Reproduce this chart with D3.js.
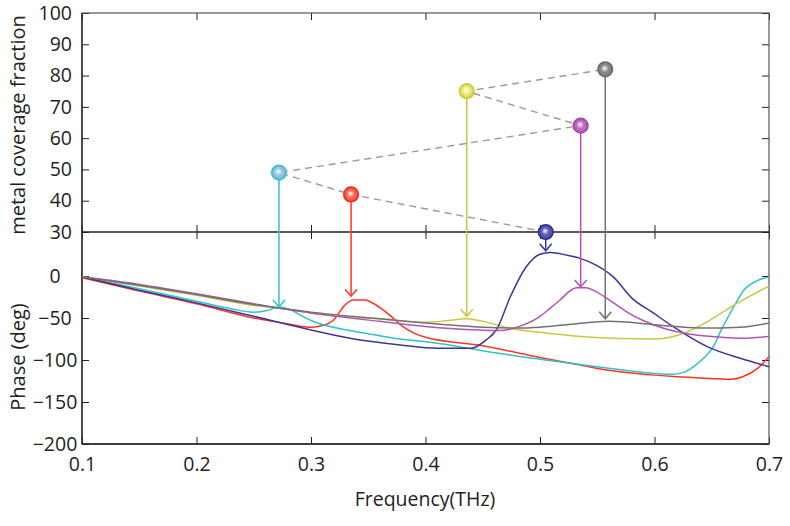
<!DOCTYPE html>
<html><head><meta charset="utf-8">
<script src="https://cdn.jsdelivr.net/npm/d3@7"></script>
<style>
body{margin:0;background:#fff;}
text{font-family:"Open Sans",sans-serif;fill:#231f20;}
</style></head>
<body><svg id="c" width="790" height="526"></svg>
<script>
// ---- data ----
const seriesNames = ["red","cyan","yellow","navy","purple","gray"];
const seriesColors = ["#ff3322","#2cc3c9","#c9c83c","#3b3797","#b254b6","#717171"];
const redPhase = [[0.1,-2],[0.15,-18],[0.2,-33],[0.25,-50],[0.28,-57],[0.3,-61],[0.31,-59],[0.32,-52],[0.33,-34],[0.337,-28.6],[0.347,-28.6],[0.355,-33],[0.37,-48],[0.38,-60],[0.39,-68],[0.4,-73],[0.45,-83],[0.5,-97],[0.535,-106],[0.55,-110],[0.6,-118],[0.62,-120],[0.65,-122],[0.667,-123],[0.677,-120],[0.69,-110],[0.7,-96]];
const cyanPhase = [[0.1,-1],[0.15,-15],[0.2,-30],[0.23,-39],[0.25,-43],[0.262,-41],[0.272,-37],[0.282,-40],[0.29,-46],[0.3,-53],[0.334,-65],[0.36,-71],[0.378,-75],[0.404,-79],[0.433,-85],[0.45,-89],[0.5,-99],[0.55,-108],[0.6,-116],[0.615,-117],[0.625,-115],[0.637,-105],[0.645,-95],[0.651,-85],[0.658,-65],[0.665,-47],[0.672,-30],[0.678,-17],[0.689,-6],[0.7,-1]];
const yellowPhase = [[0.1,-1],[0.15,-12],[0.2,-23],[0.25,-35],[0.272,-38],[0.3,-44],[0.36,-51],[0.4,-55],[0.42,-53],[0.436,-51],[0.45,-54],[0.477,-63],[0.5,-67],[0.535,-72],[0.57,-74.5],[0.6,-75],[0.622,-70],[0.648,-53],[0.669,-35],[0.7,-12]];
const navyPhase = [[0.1,-1],[0.15,-17],[0.2,-32],[0.25,-48],[0.29,-61],[0.334,-74],[0.378,-82],[0.41,-86],[0.44,-86],[0.453,-76],[0.462,-64],[0.474,-25],[0.488,11],[0.5,26],[0.509,28],[0.523,25],[0.535,21],[0.549,13],[0.564,-1],[0.58,-26],[0.599,-44],[0.616,-60],[0.646,-84],[0.675,-98],[0.7,-108]];
const purplePhase = [[0.1,-1],[0.15,-10],[0.2,-21],[0.25,-33],[0.3,-44],[0.36,-54],[0.4,-60],[0.44,-64],[0.465,-65],[0.482,-60],[0.5,-48],[0.51,-37],[0.518,-28],[0.525,-19],[0.532,-14],[0.54,-14],[0.548,-18],[0.56,-28],[0.575,-42],[0.59,-53],[0.61,-63],[0.63,-69],[0.65,-72],[0.675,-74],[0.7,-72]];
const grayPhase = [[0.1,-1],[0.15,-11],[0.2,-22],[0.25,-34],[0.3,-43],[0.36,-51],[0.4,-56],[0.45,-61],[0.48,-62],[0.5,-61],[0.53,-57],[0.56,-54],[0.6,-58],[0.64,-62],[0.675,-61],[0.7,-56]];
const phaseSeries = [redPhase,cyanPhase,yellowPhase,navyPhase,purplePhase,grayPhase];

// resonance markers: frequency, metal coverage fraction, phase where arrow ends
const markerFreq = [0.335,0.272,0.436,0.505,0.5355,0.557];
const markerCoverage = [42,49,75,30,64,82];
const markerArrowPhase = [-24,-37,-48,30,-13,-51];
const ballFill = ["#ff6655","#93c9ee","#eeee77","#5a5cb4","#c46cc6","#8c8c8c"];
const ballStroke = ["#f02a1c","#3ec2d2","#cccc3a","#2f2f8c","#a443a8","#6a6a6a"];

const xTicks = [0.1,0.2,0.3,0.4,0.5,0.6,0.7];
const topTicks = [30,40,50,60,70,80,90,100];
const botTicks = [-200,-150,-100,-50,0];

// ---- layout ----
const L=82,R=769,T=13,M=232,B=444;
const svg=d3.select("#c");
const x=d3.scaleLinear([0.1,0.7],[L,R]);
const yTop=d3.scaleLinear([30,100],[M,T]);
const yBot=d3.scaleLinear([-200,52.4],[B,M]);

const defs=svg.append("defs");
defs.append("clipPath").attr("id","clipBot").append("rect").attr("x",L).attr("y",M).attr("width",R-L).attr("height",B-M);
ballFill.forEach((c,i)=>{
  const g=defs.append("radialGradient").attr("id","g"+i).attr("cx","50%").attr("cy","50%").attr("r","55%").attr("fx","45%").attr("fy","42%");
  g.append("stop").attr("offset","0%").attr("stop-color","#ffffff").attr("stop-opacity",0.85);
  g.append("stop").attr("offset","45%").attr("stop-color",c);
  g.append("stop").attr("offset","100%").attr("stop-color",d3.color(c).darker(0.5));
});

const FS=19.5;
function styleAxis(g){g.select(".domain").remove();g.selectAll(".tick line").attr("stroke","#231f20").attr("stroke-width",1);g.selectAll("text").attr("font-size",FS).style("fill","#231f20");}

// top panel axes (ticks inward)
svg.append("g").attr("transform",`translate(${L},0)`).call(d3.axisLeft(yTop).tickValues(topTicks).tickSize(-7).tickPadding(10).tickFormat(d3.format("d"))).call(styleAxis);
svg.append("g").attr("transform",`translate(${R},0)`).call(d3.axisRight(yTop).tickValues(topTicks).tickSize(-7).tickFormat("")).call(styleAxis);
svg.append("g").attr("transform",`translate(0,${T})`).call(d3.axisTop(x).tickValues(xTicks).tickSize(-7).tickFormat("")).call(styleAxis);
svg.append("g").attr("transform",`translate(0,${M})`).call(d3.axisBottom(x).tickValues(xTicks).tickSize(-7).tickFormat("")).call(styleAxis);
// bottom panel axes
const bl=svg.append("g").attr("transform",`translate(${L},0)`).call(d3.axisLeft(yBot).tickValues(botTicks).tickSize(-7).tickPadding(27).tickFormat(d=>d<0?"\u2212"+Math.abs(d):d)).call(styleAxis);
bl.selectAll("text").attr("text-anchor","middle");
svg.append("g").attr("transform",`translate(${R},0)`).call(d3.axisRight(yBot).tickValues(botTicks).tickSize(-7).tickFormat("")).call(styleAxis);
svg.append("g").attr("transform",`translate(0,${M})`).call(d3.axisTop(x).tickValues(xTicks).tickSize(-7).tickFormat("")).call(styleAxis);
svg.append("g").attr("transform",`translate(0,${B})`).call(d3.axisBottom(x).tickValues(xTicks).tickSize(-7).tickPadding(13).tickFormat(d3.format(".1f"))).call(styleAxis);

// frames
svg.append("rect").attr("x",L).attr("y",T).attr("width",R-L).attr("height",B-T).attr("fill","none").attr("stroke","#555").attr("stroke-width",1.2);
svg.append("line").attr("x1",L).attr("x2",R).attr("y1",M).attr("y2",M).attr("stroke","#231f20").attr("stroke-width",1.3);
svg.append("line").attr("x1",L).attr("x2",L).attr("y1",T).attr("y2",B).attr("stroke","#231f20").attr("stroke-width",1.3);
svg.append("line").attr("x1",L).attr("x2",R).attr("y1",B).attr("y2",B).attr("stroke","#231f20").attr("stroke-width",1.3);

// curves
const line=d3.line().x(d=>x(d[0])).y(d=>yBot(d[1])).curve(d3.curveMonotoneX);
const cg=svg.append("g").attr("clip-path","url(#clipBot)");
phaseSeries.forEach((s,i)=>{
  cg.append("path").attr("d",line(s)).attr("fill","none").attr("stroke",seriesColors[i]).attr("stroke-width",1.5);
});

// dashed connector, sorted by coverage
const order=d3.range(markerFreq.length).sort((a,b)=>markerCoverage[a]-markerCoverage[b]);
svg.append("path").attr("d",d3.line()(order.map(i=>[x(markerFreq[i]),yTop(markerCoverage[i])])))
  .attr("fill","none").attr("stroke","#9a9a9a").attr("stroke-width",1.4).attr("stroke-dasharray","7,5");

// stems & arrows
markerFreq.forEach((f,i)=>{
  const px=x(f), y0=yTop(markerCoverage[i]), y1=yBot(markerArrowPhase[i]);
  svg.append("line").attr("x1",px).attr("x2",px).attr("y1",y0).attr("y2",y1).attr("stroke",seriesColors[i]).attr("stroke-width",1.5);
  svg.append("path").attr("d",`M${px-6},${y1-7}L${px},${y1}L${px+6},${y1-7}`).attr("fill","none").attr("stroke",seriesColors[i]).attr("stroke-width",1.5);
});
// balls
markerFreq.forEach((f,i)=>{
  svg.append("circle").attr("cx",x(f)).attr("cy",yTop(markerCoverage[i])).attr("r",7.3)
    .attr("fill",`url(#g${i})`).attr("stroke",ballStroke[i]).attr("stroke-width",1.6);
});

// labels
svg.append("text").attr("transform","translate(25,125) rotate(-90)").attr("text-anchor","middle").attr("font-size",20).text("metal coverage fraction");
svg.append("text").attr("transform","translate(25,357) rotate(-90)").attr("text-anchor","middle").attr("font-size",20).text("Phase (deg)");
svg.append("text").attr("x",425).attr("y",506).attr("text-anchor","middle").attr("font-size",19.5).text("Frequency(THz)");
</script></body></html>
